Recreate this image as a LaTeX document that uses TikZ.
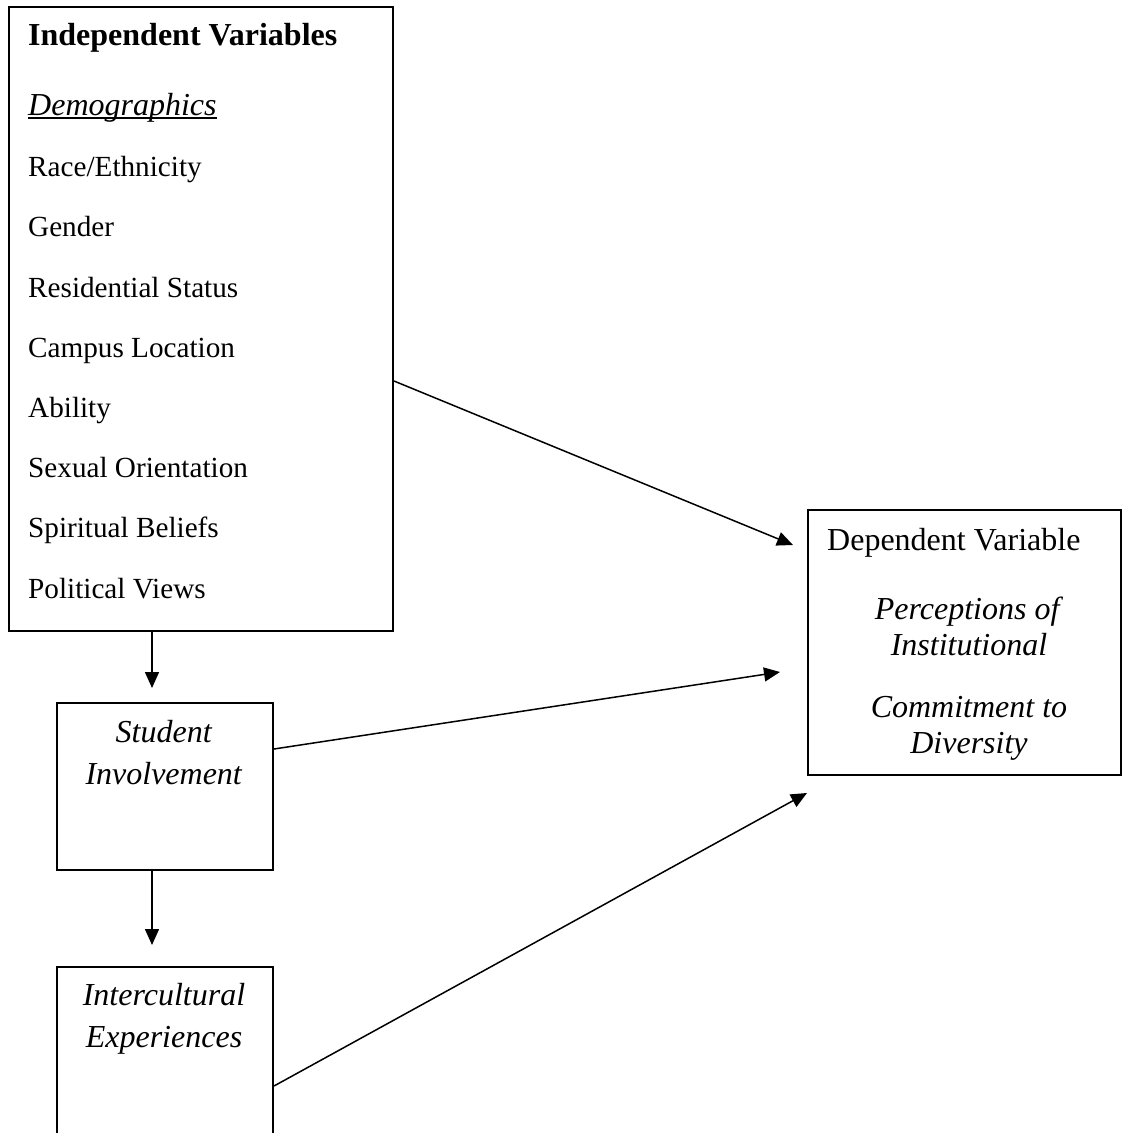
\documentclass[tikz,border=0pt]{standalone}
\usepackage{fontspec}
\setmainfont{Liberation Serif}
\usepackage{tikz}
\usetikzlibrary{arrows.meta, calc}
\tikzset{box it/.style={draw, line width=2pt, inner sep=0pt}}
\tikzset{arrow it/.style={-{Triangle[length=16pt, width=14pt]}, line width=1.5pt}}
\tikzset{big text/.style={inner sep=0pt, font=\fontsize{32}{38}\selectfont}}
\tikzset{list text/.style={inner sep=0pt, anchor=base west, font=\fontsize{29.2}{35}\selectfont}}

\begin{document}
\begin{tikzpicture}[x=1pt, y=-1pt]

\clip (0,0) rectangle (1122,1133);

% Draw the four boxes
\node[box it, anchor=north west, minimum width=384pt, minimum height=624pt] (iv) at (8,6) {};
\node[box it, anchor=north west, minimum width=216pt, minimum height=167pt] (si) at (56,702) {};
\node[box it, anchor=north west, minimum width=216pt, minimum height=184pt] (ie) at (56,966) {};
\node[box it, anchor=north west, minimum width=313pt, minimum height=265pt] (dv) at (807,509) {};

% Text of the independent variables box
\node[big text, anchor=base west] (iv_title) at (28,45) {\textbf{Independent Variables}};
\node[big text, anchor=base west] (demo) at (28,115) {\textit{Demographics}};
\draw[line width=1.4pt] ([yshift=-3pt]demo.base west) -- ([yshift=-3pt]demo.base east);
\node[list text] (race) at (28,176.7) {Race/Ethnicity};
\node[list text] (gender) at (28,236.9) {Gender};
\node[list text] (resid) at (28,297.1) {Residential Status};
\node[list text] (campus) at (28,357.3) {Campus Location};
\node[list text] (ability) at (28,417.5) {Ability};
\node[list text] (sexual) at (28,477.7) {Sexual Orientation};
\node[list text] (spirit) at (28,537.9) {Spiritual Beliefs};
\node[list text] (politic) at (28,598.1) {Political Views};

% Text of the student involvement box
\node[big text, anchor=base] (si_one) at (164,742.5) {\textit{Student}};
\node[big text, anchor=base] (si_two) at (164,784) {\textit{Involvement}};

% Text of the intercultural experiences box
\node[big text, anchor=base] (ie_one) at (164,1005.7) {\textit{Intercultural}};
\node[big text, anchor=base] (ie_two) at (164,1047.3) {\textit{Experiences}};

% Text of the dependent variable box
\node[big text, anchor=base west] (dv_title) at (827,550) {Dependent Variable};
\node[big text, anchor=base] (dv_one) at (969,619) {\textit{Perceptions of}};
\node[big text, anchor=base] (dv_two) at (969,655.7) {\textit{Institutional}};
\node[big text, anchor=base] (dv_three) at (969,717.5) {\textit{Commitment to}};
\node[big text, anchor=base] (dv_four) at (969,753) {\textit{Diversity}};

% Free ends of the arrows
\coordinate (tip_si) at (152,688);
\coordinate (tip_ie) at (152,945);
\coordinate (tip_a) at (793,545);
\coordinate (tip_b) at (780,672);
\coordinate (tip_c) at (807,793);

% Draw the two downward arrows
\draw[arrow it] (tip_si |- iv.south) -- (tip_si);
\draw[arrow it] (tip_ie |- si.south) -- (tip_ie);

% Draw the three arrows to the dependent variable
\draw[arrow it] ([yshift=-62pt]iv.east) -- (tip_a);
\draw[arrow it] ([yshift=37.5pt]si.east) -- (tip_b);
\draw[arrow it] ([yshift=-27pt]ie.east) -- (tip_c);

\end{tikzpicture}
\end{document}
